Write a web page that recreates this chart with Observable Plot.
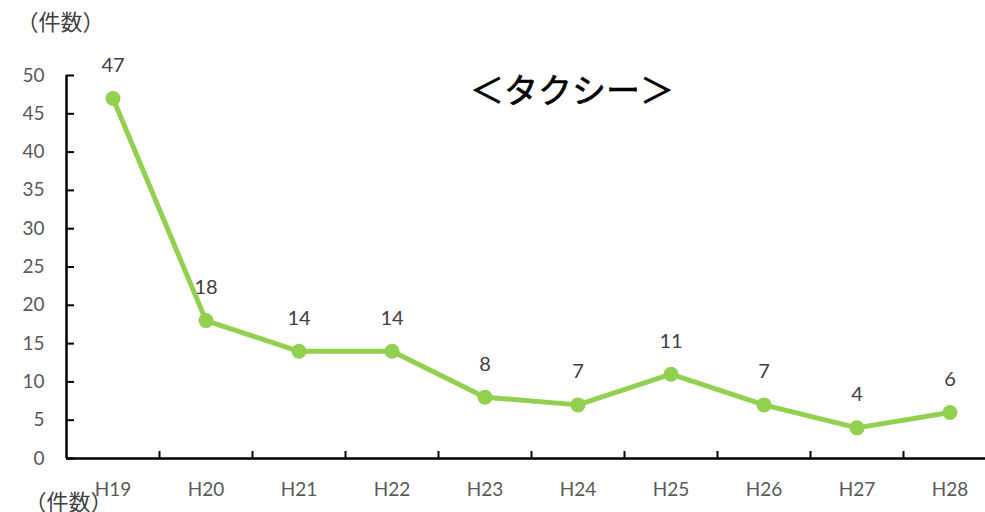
<!DOCTYPE html>
<html><head><meta charset="utf-8">
<script src="https://cdn.jsdelivr.net/npm/d3@7"></script>
<script src="https://cdn.jsdelivr.net/npm/@observablehq/plot@0.6"></script>
<style>body{margin:0;background:#fff;} svg{display:block;}</style>
</head><body><div id="chart"></div>
<script>
const years = ["H19","H20","H21","H22","H23","H24","H25","H26","H27","H28"];
const counts = [47,18,14,14,8,7,11,7,4,6];
const yTicks = [0,5,10,15,20,25,30,35,40,45,50];
const title = "＜タクシー＞";
const unitLabel = "（件数）";

const data = years.map((y, i) => ({i, year: y, v: counts[i]}));
const boundaries = years.map((_, i) => i + 0.5);
const font = "Lato, 'Noto Sans CJK JP', sans-serif";
const jfont = "'Noto Sans CJK JP', sans-serif";

const chart = Plot.plot({
  width: 985, height: 512,
  marginTop: 75, marginBottom: 54, marginLeft: 66, marginRight: 0,
  style: {fontFamily: font, background: "#fff", overflow: "hidden"},
  x: {domain: [-0.5, 9.5], range: [66, 996], label: null},
  y: {domain: [0, 50], label: null},
  marks: [
    Plot.axisY(yTicks, {tickSize: 0, tickPadding: 22, fontSize: 19, fill: "#595959", label: null}),
    Plot.axisY(yTicks, {tickSize: -8, tickFormat: () => "", stroke: "#000", strokeWidth: 2, label: null}),
    Plot.axisX(data.map(d => d.i), {tickSize: 0, tickPadding: 24, tickFormat: i => years[i], fontSize: 19, fill: "#595959", label: null}),
    Plot.axisX(boundaries, {tickSize: -7, tickFormat: () => "", stroke: "#000", strokeWidth: 2, label: null}),
    Plot.ruleX([-0.5], {y1: 0, y2: 50, stroke: "#000", strokeWidth: 2.5}),
    Plot.ruleY([0], {stroke: "#000", strokeWidth: 2.5}),
    Plot.line(data, {x: "i", y: "v", stroke: "#92d050", strokeWidth: 5}),
    Plot.dot(data, {x: "i", y: "v", r: 7.5, fill: "#92d050", stroke: "none"}),
    Plot.text(data, {x: "i", y: "v", text: d => String(d.v), dy: -33, fontSize: 20, fill: "#404040", fontFamily: font}),
    Plot.text([title], {frameAnchor: "top", dx: 46, dy: 3, fontSize: 34, fill: "#000", fontFamily: jfont, stroke: "#000", strokeWidth: 0.6}),
    Plot.text([unitLabel], {frameAnchor: "top-left", dx: -50, dy: 0, lineAnchor: "middle", fontSize: 22, fill: "#404040", fontFamily: jfont, textAnchor: "start", dy: -53}),
    Plot.text([unitLabel], {frameAnchor: "bottom-left", dx: -42, dy: 44, lineAnchor: "middle", fontSize: 22, fill: "#404040", fontFamily: jfont, textAnchor: "start"})
  ]
});
document.getElementById("chart").appendChild(chart);
</script></body></html>
